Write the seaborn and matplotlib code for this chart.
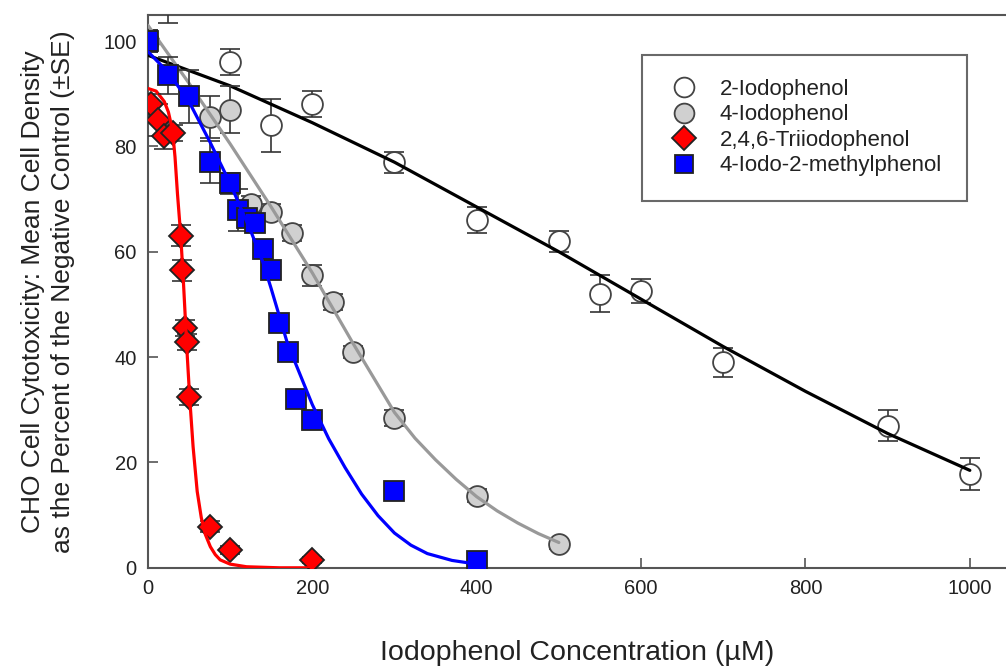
import numpy as np
import pandas as pd
import seaborn as sns
import matplotlib.pyplot as plt
from matplotlib.lines import Line2D

# measured points (concentration in uM, % of negative control, SE)
iodo2_x = [0, 25, 100, 150, 200, 300, 400, 500, 550, 600, 700, 900, 1000]
iodo2_y = [100, 108, 96, 84, 88, 77, 66, 62, 52, 52.6, 39, 27, 17.8]
iodo2_se = [2, 4.5, 2.5, 5, 2.5, 2, 2.5, 2, 3.5, 2.3, 2.8, 3, 3]

iodo4_x = [0, 75, 100, 125, 150, 175, 200, 225, 250, 300, 400, 500]
iodo4_y = [100, 85.5, 87, 69, 67.5, 63.5, 55.5, 50.5, 41, 28.5, 13.7, 4.5]
iodo4_se = [2, 4, 4.5, 1.5, 1.5, 1.5, 2, 1.5, 1.2, 1.5, 1.2, 1]

tri_x = [4, 12, 20, 31, 40, 42, 45, 47, 50, 75, 100, 200]
tri_y = [88, 85, 82, 82.5, 63, 56.5, 45.5, 42.8, 32.4, 7.8, 3.4, 1.5]
tri_se = [2, 3, 2.5, 1.5, 2, 2, 1.5, 1.5, 1.5, 1, 0.8, 0.5]

methyl_x = [0, 25, 50, 75, 100, 110, 120, 130, 140, 150, 160, 170, 180, 200, 300, 400]
methyl_y = [100, 93.5, 89.5, 77, 73, 68, 66.5, 65.5, 60.5, 56.5, 46.5, 41, 32, 28, 14.5, 1.2]
methyl_se = [1, 3.5, 5, 4, 2, 4, 1.5, 1.5, 1.5, 1, 1, 1, 1, 1, 0.5, 0.5]

# fitted curves
iodo2_fit_x = [0, 100, 200, 300, 400, 500, 600, 700, 800, 900, 1000]
iodo2_fit_y = [97.3, 91.5, 84.5, 77, 68.5, 60, 51, 42, 33.5, 25.5, 18.5]

iodo4_fit_x = [0, 50, 100, 150, 200, 250, 300, 325, 350, 375, 400, 425, 450, 475, 500]
iodo4_fit_y = [103, 92, 80.5, 68.5, 56, 42.5, 29.5, 24.6, 20.5, 16.8, 13.5, 10.8, 8.5, 6.5, 4.8]

tri_fit_x = [0, 10, 20, 25, 30, 33, 36, 40, 43, 46, 48, 51, 55, 60, 65, 70, 76, 82, 88, 100, 120, 160, 200]
tri_fit_y = [91, 90.5, 88.5, 86.5, 83, 78, 71, 63, 55, 46, 40, 32, 23, 14.5, 9.5, 6.3, 4.0, 2.5, 1.5, 0.7, 0.2, 0, 0]

methyl_fit_x = [0, 25, 50, 75, 100, 125, 140, 150, 170, 200, 220, 240, 260, 280, 300, 320, 340, 370, 400]
methyl_fit_y = [98, 94, 88.5, 81, 73, 64, 58, 53, 42.5, 31, 24.5, 19, 14, 9.9, 6.6, 4.3, 2.7, 1.4, 0.7]

labels = ["2-Iodophenol", "4-Iodophenol", "2,4,6-Triiodophenol", "4-Iodo-2-methylphenol"]

sns.set_style("ticks")
plt.rcParams['font.family'] = ['Liberation Sans', 'DejaVu Sans']

fig = plt.figure(figsize=(10.06, 6.68), dpi=100)
ax = fig.add_axes([0.147, 0.150, 0.853, 0.828])

series = [
    (iodo2_x, iodo2_y, iodo2_se, iodo2_fit_x, iodo2_fit_y, 'o', 'white', '#444444', 'black', 15),
    (iodo4_x, iodo4_y, iodo4_se, iodo4_fit_x, iodo4_fit_y, 'o', '#d0d0d0', '#444444', '#999999', 15),
    (tri_x, tri_y, tri_se, tri_fit_x, tri_fit_y, 'D', '#ff0000', '#222222', '#ff0000', 12.5),
    (methyl_x, methyl_y, methyl_se, methyl_fit_x, methyl_fit_y, 's', '#0000ff', '#222222', '#0000ff', 14),
]

handles = []
for i, (px, py, pse, fx, fy, mk, fc, ec, lc, ms) in enumerate(series):
    z = 3 + i * 3
    ax.errorbar(px, py, yerr=pse, fmt='none', ecolor='#333333', elinewidth=1.2,
                capsize=7, capthick=1.2, zorder=z)
    ax.plot(px, py, linestyle='none', marker=mk, markersize=ms, markerfacecolor=fc,
            markeredgecolor=ec, markeredgewidth=1.3, zorder=z + 1)
    fit = pd.DataFrame({'x': fx, 'y': fy})
    sns.lineplot(data=fit, x='x', y='y', color=lc, linewidth=2.3, ax=ax,
                 sort=False, zorder=z + 2)
    handles.append(Line2D([], [], linestyle='none', marker=mk, markersize=ms * 0.95,
                          markerfacecolor=fc, markeredgecolor=ec, markeredgewidth=1.3,
                          label=labels[i]))

ax.set_xlim(0, 1044)
ax.set_ylim(0, 105)
ax.set_xticks([0, 200, 400, 600, 800, 1000])
ax.set_yticks([0, 20, 40, 60, 80, 100])
ax.tick_params(direction='in', length=7, width=1.2, color='#555555',
               labelsize=14.5, labelcolor='#222222', pad=8)
for side in ['left', 'bottom', 'top']:
    ax.spines[side].set_color('#555555')
    ax.spines[side].set_linewidth(1.5)
ax.spines['right'].set_visible(False)

ax.set_xlabel("Iodophenol Concentration (\u00b5M)", fontsize=20.5, color='#222222', labelpad=30)
ax.set_ylabel("CHO Cell Cytotoxicity: Mean Cell Density\nas the Percent of the Negative Control (\u00b1SE)",
              fontsize=19, color='#222222', linespacing=1.3)
ax.yaxis.set_label_coords(-0.085, 0.5)

leg = ax.legend(handles=handles, loc='upper left', bbox_to_anchor=(0.576, 0.928),
                fontsize=16, frameon=True, fancybox=False, edgecolor='#444444',
                borderpad=1.1, labelspacing=0.2, handletextpad=0.8, borderaxespad=0,
                handlelength=1.6)
leg.get_frame().set_linewidth(1.5)
for t in leg.get_texts():
    t.set_color('#222222')

fig.savefig("out.png", dpi=100)
